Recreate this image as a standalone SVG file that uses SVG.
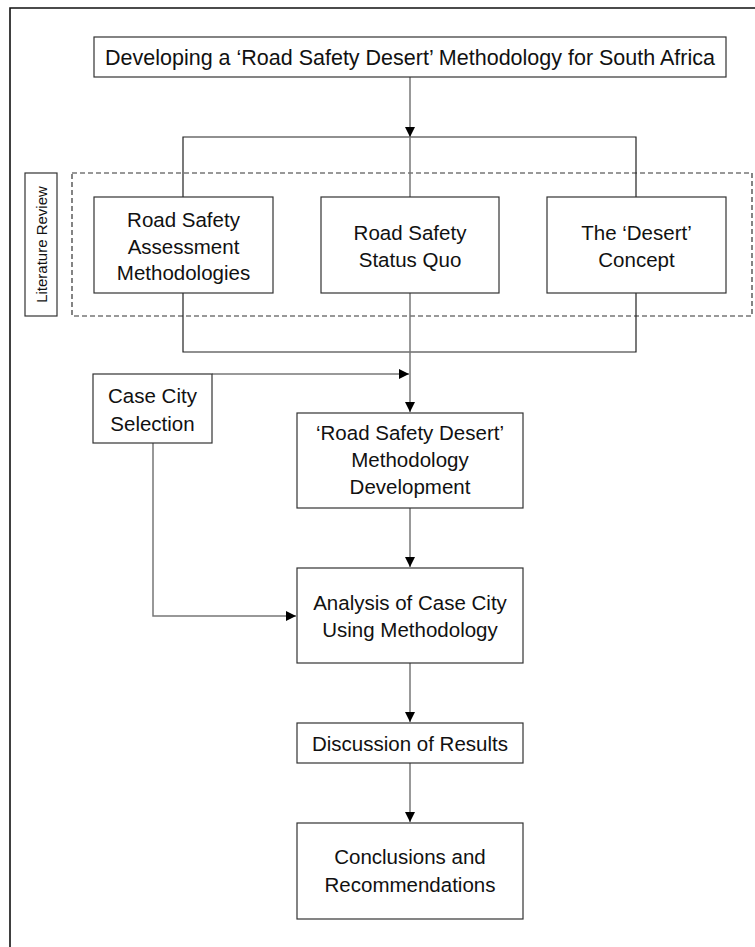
<svg xmlns="http://www.w3.org/2000/svg" width="755" height="947" viewBox="0 0 755 947">
<defs>
<marker id="ah" markerUnits="userSpaceOnUse" markerWidth="10" markerHeight="10" viewBox="0 0 10 10" refX="10" refY="5" orient="auto">
<path d="M0,0 L10,5 L0,10 z" fill="#000"/>
</marker>
<style>
.box{fill:#fff;stroke:#333;stroke-width:1.2}
.t{font-family:"Liberation Sans",Arial,sans-serif;font-size:20.5px;fill:#111;text-anchor:middle}
.br{fill:none;stroke:#222;stroke-width:1.2}
.cn{fill:none;stroke:#777;stroke-width:1.5}
.ar{marker-end:url(#ah)}
</style>
</defs>
<rect width="755" height="947" fill="#fff"/>
<path d="M10,947 V8 H755" fill="none" stroke="#111" stroke-width="1.6"/>
<g id="connectors">
<rect x="72" y="173" width="680" height="143" fill="none" stroke="#333" stroke-width="1.2" stroke-dasharray="5,3"/>
<path class="br" d="M183,197 V137 H636 V197"/>
<path class="br" d="M183,293 V352 H636 V293"/>
<path class="cn ar" d="M410,77 V137"/>
<path class="cn" d="M410,137 V197"/>
<path class="cn ar" d="M410,293 V412"/>
<path class="cn ar" d="M212,374 H409"/>
<path class="cn ar" d="M153,443 V616 H296"/>
<path class="cn ar" d="M410,508 V567"/>
<path class="cn ar" d="M410,663 V722"/>
<path class="cn ar" d="M410,763 V822"/>
</g>
<g id="title">
<rect class="box" x="94" y="37" width="632" height="40"/>
<text class="t" style="font-size:21.5px" x="410" y="64.5">Developing a ‘Road Safety Desert’ Methodology for South Africa</text>
</g>
<g id="literature-review">
<rect class="box" x="25" y="173" width="32" height="143"/>
<text class="t" style="font-size:15px" transform="translate(46.5,244.5) rotate(-90)">Literature Review</text>
</g>
<g id="assessment">
<rect class="box" x="94" y="197" width="179" height="96"/>
<text class="t" x="183.5" y="227">Road Safety</text>
<text class="t" x="183.5" y="253.5">Assessment</text>
<text class="t" x="183.5" y="280">Methodologies</text>
</g>
<g id="status-quo">
<rect class="box" x="321" y="197" width="178" height="96"/>
<text class="t" x="410" y="240">Road Safety</text>
<text class="t" x="410" y="267">Status Quo</text>
</g>
<g id="desert-concept">
<rect class="box" x="547" y="197" width="179" height="96"/>
<text class="t" x="636.5" y="240">The ‘Desert’</text>
<text class="t" x="636.5" y="267">Concept</text>
</g>
<g id="case-city">
<rect class="box" x="93" y="374" width="119" height="69"/>
<text class="t" x="152.5" y="403">Case City</text>
<text class="t" x="152.5" y="431">Selection</text>
</g>
<g id="methodology">
<rect class="box" x="297" y="413" width="226" height="95"/>
<text class="t" x="410" y="440">‘Road Safety Desert’</text>
<text class="t" x="410" y="467">Methodology</text>
<text class="t" x="410" y="494">Development</text>
</g>
<g id="analysis">
<rect class="box" x="297" y="568" width="226" height="95"/>
<text class="t" x="410" y="610">Analysis of Case City</text>
<text class="t" x="410" y="637">Using Methodology</text>
</g>
<g id="discussion">
<rect class="box" x="297" y="723" width="226" height="40"/>
<text class="t" x="410" y="750.5">Discussion of Results</text>
</g>
<g id="conclusions">
<rect class="box" x="297" y="823" width="226" height="96"/>
<text class="t" x="410" y="864">Conclusions and</text>
<text class="t" x="410" y="892">Recommendations</text>
</g>
</svg>
